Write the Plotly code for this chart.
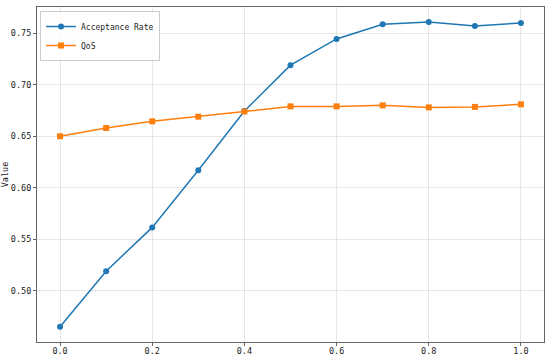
import plotly.graph_objects as go

x_vals = [0.0, 0.1, 0.2, 0.3, 0.4, 0.5, 0.6, 0.7, 0.8, 0.9, 1.0]
acceptance_rate = [0.465, 0.519, 0.5615, 0.617, 0.6745, 0.719, 0.7445, 0.7587, 0.761, 0.757, 0.760]
qos = [0.650, 0.658, 0.6645, 0.669, 0.674, 0.679, 0.679, 0.680, 0.678, 0.6785, 0.681]
x_ticks = [0.0, 0.2, 0.4, 0.6, 0.8, 1.0]
y_ticks = [0.50, 0.55, 0.60, 0.65, 0.70, 0.75]

FONT = "DejaVu Sans Mono"

fig = go.Figure()
fig.add_trace(go.Scatter(x=x_vals, y=acceptance_rate, mode="lines+markers", name="Acceptance Rate",
                         line=dict(color="#1f77b4", width=1.5),
                         marker=dict(symbol="circle", size=6, color="#1f77b4")))
fig.add_trace(go.Scatter(x=x_vals, y=qos, mode="lines+markers", name="QoS",
                         line=dict(color="#ff7f0e", width=1.5),
                         marker=dict(symbol="square", size=6, color="#ff7f0e")))

axis_common = dict(showline=True, linecolor="#666666", linewidth=1, mirror=True,
                   showgrid=True, gridcolor="rgba(176,176,176,0.3)", gridwidth=1,
                   ticks="outside", ticklen=3, tickcolor="#666666",
                   tickfont=dict(family=FONT, size=8.5, color="#222222"), zeroline=False,
                   automargin=False)

fig.update_layout(
    width=550, height=357,
    margin=dict(l=37, r=6, t=7, b=15),
    plot_bgcolor="white", paper_bgcolor="white",
    font=dict(family=FONT, size=8.5, color="#222222"),
    xaxis=dict(range=[-0.05, 1.05], tickvals=x_ticks, ticktext=[f"{v:.1f}" for v in x_ticks],
               ticklabelstandoff=-2, **axis_common),
    yaxis=dict(range=[0.4502, 0.7755], tickvals=y_ticks, ticktext=[f"{v:.2f}" for v in y_ticks],
               title=dict(text="Value", font=dict(family=FONT, size=8.5), standoff=6), **axis_common),
    legend=dict(x=0.006, y=0.988, xanchor="left", yanchor="top", bgcolor="rgba(255,255,255,0.8)",
                bordercolor="#cccccc", borderwidth=1, font=dict(family=FONT, size=8),
                tracegroupgap=0, itemwidth=30),
    showlegend=True,
)

# remove the browser's default 8px body margin so the figure fills the window exactly
fig.write_html("out.html", config={"displayModeBar": False},
               post_script="document.body.style.margin='0';")
